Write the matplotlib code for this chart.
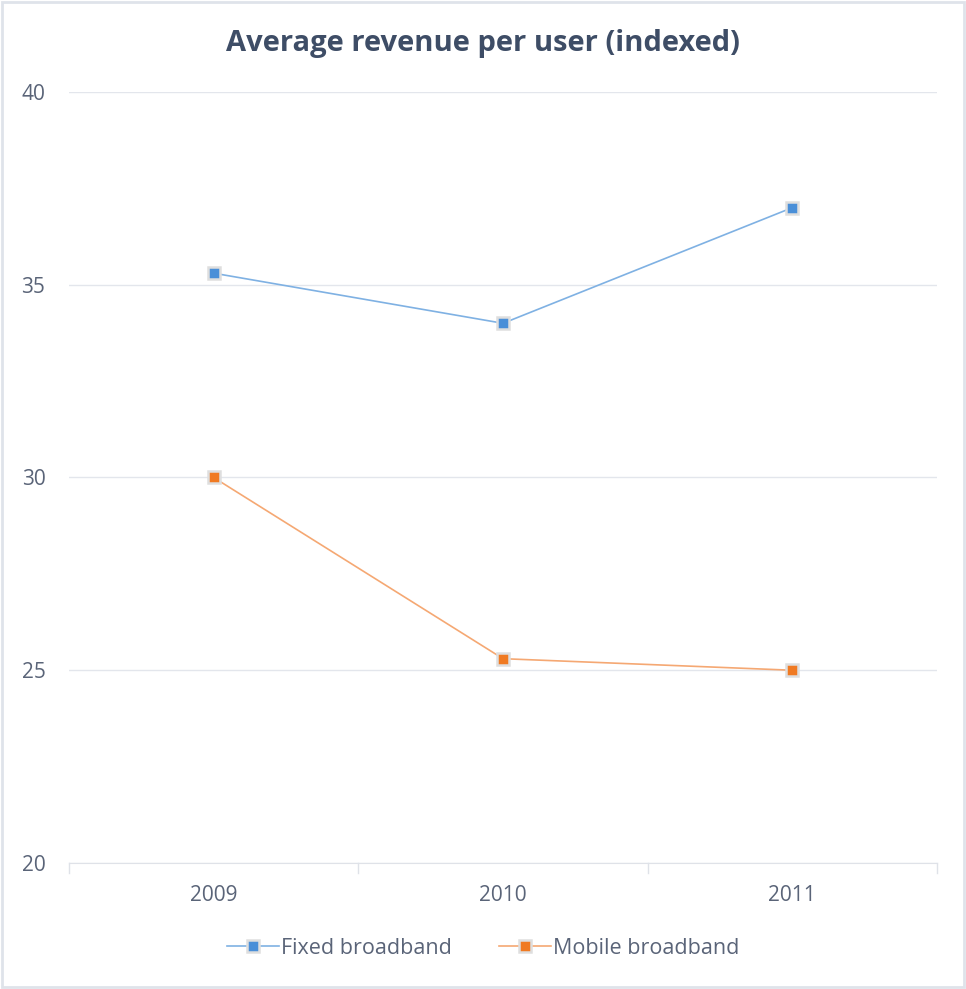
import matplotlib
matplotlib.use("Agg")
import matplotlib.pyplot as plt
from matplotlib.patches import Rectangle

years = ["2009", "2010", "2011"]
fixed = [35.3, 34.0, 37.0]
mobile = [30.0, 25.3, 25.0]
yticks = [20, 25, 30, 35, 40]

plt.rcParams['font.family'] = ['Open Sans', 'DejaVu Sans']
text_col = '#5a6478'
title_col = '#3e4d66'

fig = plt.figure(figsize=(9.66, 9.89), dpi=100)
ax = fig.add_axes([69/966, 1-863/989, (937-69)/966, (863-92)/989])

x = list(range(len(years)))
ax.plot(x, fixed, color='#7fb1e3', lw=1.2, marker='s', ms=8.5,
        mfc='#4a8fd8', mec='#dedede', mew=1.8, label='Fixed broadband', zorder=3)
ax.plot(x, mobile, color='#f5a873', lw=1.2, marker='s', ms=8.5,
        mfc='#f07a22', mec='#dedede', mew=1.8, label='Mobile broadband', zorder=3)

ax.set_xlim(-0.5, len(years) - 0.5)
ax.set_ylim(20, 40)
ax.set_yticks(yticks)
ax.set_xticks(x)
ax.set_xticklabels(years)
ax.yaxis.grid(True, color='#e3e6ec', lw=1)
ax.set_axisbelow(True)
for s in ['top', 'right', 'left']:
    ax.spines[s].set_visible(False)
ax.spines['bottom'].set_color('#dfe2e8')
ax.tick_params(axis='y', length=0, pad=17, labelsize=15, labelcolor=text_col)
ax.tick_params(axis='x', length=0, pad=16, labelsize=15, labelcolor=text_col)
# category boundary ticks
for b in [-0.5, 0.5, 1.5, 2.5]:
    ax.plot([b, b], [20, 19.75], color='#dfe2e8', lw=1, clip_on=False)

fig.text(0.5, 1-44/989, 'Average revenue per user (indexed)', ha='center', va='center',
         fontsize=21, fontweight='bold', color=title_col)

leg = fig.legend(loc='center', bbox_to_anchor=(0.5, 1-948/989), ncol=2, frameon=False,
                 fontsize=15.5, labelcolor=text_col, handlelength=2.4, handletextpad=0.1,
                 columnspacing=2.2)

fig.patches.append(Rectangle((0.002, 0.002), 0.996, 0.996, transform=fig.transFigure,
                             fill=False, edgecolor='#dfe3ea', lw=2))

fig.savefig('out.png', dpi=100)
